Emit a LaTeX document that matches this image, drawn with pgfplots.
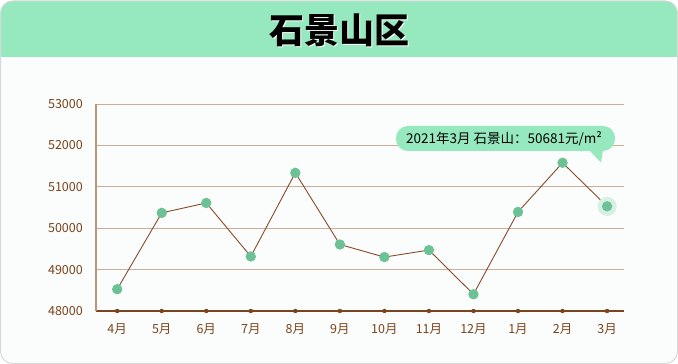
\documentclass[border=0pt]{standalone}
\usepackage{fontspec}
\setmainfont{Noto Sans CJK SC}
\usepackage{pgfplots}
\pgfplotsset{compat=1.18}
\definecolor{hdr}{HTML}{96E9BE}
\definecolor{cardbg}{HTML}{FAFDFC}
\definecolor{cardline}{HTML}{D9D9D9}
\definecolor{gridc}{HTML}{CBAE9A}
\definecolor{yaxc}{HTML}{B8967C}
\definecolor{xaxc}{HTML}{7A4420}
\definecolor{labc}{HTML}{7B431C}
\definecolor{linec}{HTML}{8A4A2A}
\definecolor{mk}{HTML}{6CC296}
\definecolor{halo}{HTML}{D8F0E3}
\pgfplotstableread{
x y
0 48526
1 50370
2 50610
3 49317
4 51338
5 49607
6 49302
7 49471
8 48404
9 50393
10 51580
11 50528
}\prices
\pgfplotstableread{
x y
0 48000
1 48000
2 48000
3 48000
4 48000
5 48000
6 48000
7 48000
8 48000
9 48000
10 48000
11 48000
}\tickdots
\begin{document}
\begin{tikzpicture}
\begin{scope}[x=1pt,y=1pt]
\useasboundingbox (0,0) rectangle (678,364);
\path[fill=cardbg, rounded corners=12pt] (0.5,0.5) rectangle (677.5,363);
\begin{scope}
\clip[rounded corners=12pt] (0.5,0.5) rectangle (677.5,363);
\fill[hdr] (0,307) rectangle (678,364);
\end{scope}
\draw[cardline, line width=1pt, rounded corners=12pt] (0.5,0.5) rectangle (677.5,363);
\node[white, font=\fontsize{35}{37}\selectfont\bfseries] at (340.5,332.5) {石景山区};
\node[black, font=\fontsize{35}{37}\selectfont\bfseries] at (339,334) {石景山区};
\end{scope}
\begin{axis}[
  at={(96pt,53pt)}, anchor=south west,
  scale only axis, width=528pt, height=207pt,
  xmin=-0.476, xmax=11.38, ymin=48000, ymax=53000,
  xtick={0,...,11},
  xticklabels={4月,5月,6月,7月,8月,9月,10月,11月,12月,1月,2月,3月},
  ytick={48000,49000,50000,51000,52000,53000},
  scaled y ticks=false,
  axis lines*=left,
  x axis line style={xaxc, line width=1.3pt},
  y axis line style={yaxc, line width=1.5pt},
  ymajorgrids, grid style={gridc, line width=0.9pt},
  major tick length=0pt,
  tick label style={labc, font=\fontsize{12.5}{14}\selectfont, inner sep=0pt},
  yticklabel style={anchor=east, xshift=-13pt},
  xticklabel style={anchor=north, yshift=-12pt},
  /pgf/number format/.cd, 1000 sep={}, assume math mode=true,
  /pgfplots/.cd,
  clip=false,
]
\addplot[only marks, mark=*, mark size=9.3pt, color=halo] coordinates {(11,50528)};
\addplot[linec, line width=0.9pt, mark=*, mark size=4.7pt, mark options={mk}] table[x=x,y=y] {\prices};
\addplot[draw=none, mark=*, mark size=2pt, mark options={draw=xaxc, fill=xaxc}] table[x=x,y=y] {\tickdots};
\end{axis}
\begin{scope}[x=1pt,y=1pt]
\fill[hdr, rounded corners=12pt] (396,238) rectangle (615,213);
\fill[hdr] (589,214) -- (603,214) -- (601,201.5) -- cycle;
\node[black, font=\fontsize{13.5}{15}\selectfont, inner sep=0pt] at (504,225.5) {2021年3月 石景山：50681元/m²};
\end{scope}
\end{tikzpicture}
\end{document}
